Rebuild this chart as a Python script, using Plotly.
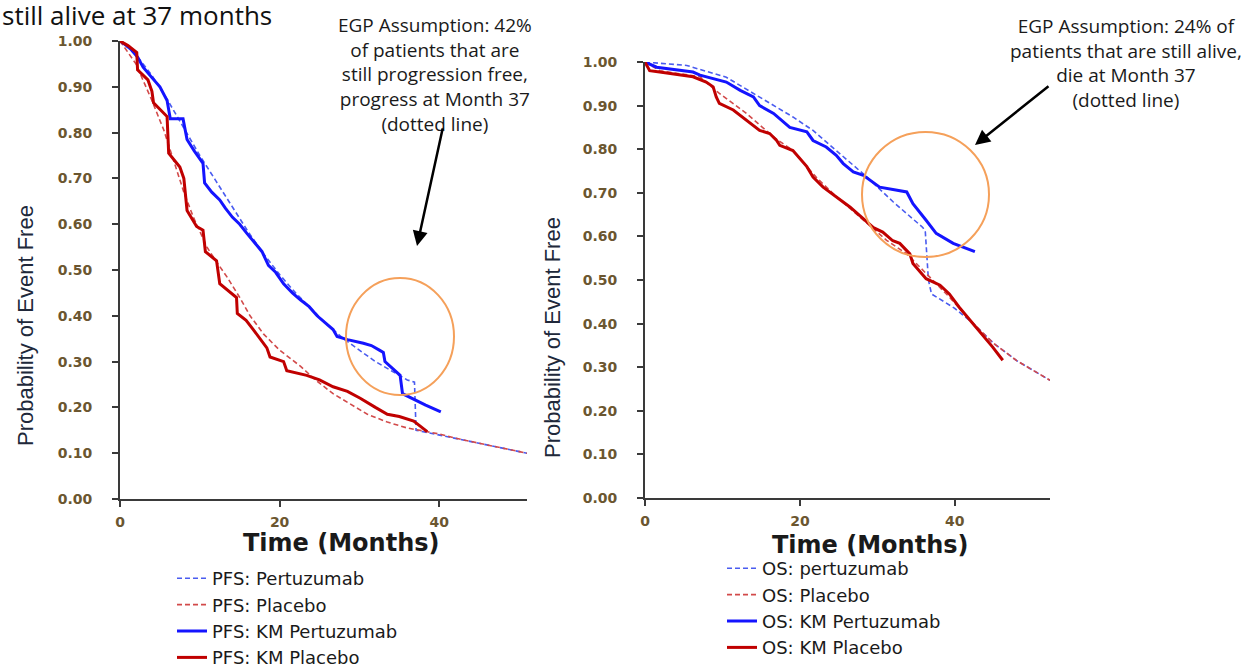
import plotly.graph_objects as go

# ---------------- PFS (left panel) ----------------
pfs_km_pert_t = [0, 1.2, 2.2, 2.9, 4, 5, 5.9, 6.3, 7.9, 8.4, 9.3, 10.4, 10.6, 11.5, 12.5, 13.2, 14.1, 15, 15.9,
                 16.8, 17.8, 18.6, 19.5, 20.5, 21.6, 22.6, 23.7, 24.7, 25.7, 26.7, 27.2, 28.5, 30.5, 31.5, 32.5,
                 33.0, 33.2, 34.2, 35.1, 35.4, 36.5, 38.3, 40.2]
pfs_km_pert_v = [1.0, 0.985, 0.965, 0.943, 0.92, 0.90, 0.87, 0.83, 0.83, 0.785, 0.76, 0.733, 0.69, 0.67, 0.653,
                 0.635, 0.615, 0.60, 0.58, 0.56, 0.54, 0.51, 0.495, 0.47, 0.45, 0.435, 0.42, 0.40, 0.385, 0.37,
                 0.355, 0.348, 0.34, 0.335, 0.325, 0.32, 0.30, 0.285, 0.27, 0.23, 0.22, 0.205, 0.19]

pfs_km_plac_t = [0, 1, 2.1, 2.2, 3.5, 4, 4.2, 5.9, 6.1, 7.5, 8.0, 8.4, 9.6, 10.4, 10.7, 12.1, 12.5, 13.5, 14.6,
                 14.7, 15.8, 16.7, 17.6, 18.4, 18.8, 20.5, 20.9, 23.4, 25, 26.7, 28.5, 30.1, 32, 33.5, 35, 36.8,
                 38.5]
pfs_km_plac_v = [1.0, 0.99, 0.975, 0.937, 0.915, 0.89, 0.865, 0.835, 0.755, 0.725, 0.70, 0.63, 0.595, 0.587,
                 0.54, 0.52, 0.47, 0.455, 0.44, 0.405, 0.39, 0.37, 0.35, 0.33, 0.31, 0.30, 0.28, 0.27, 0.26,
                 0.245, 0.235, 0.22, 0.20, 0.185, 0.18, 0.17, 0.147]

pfs_mod_pert_t = [0, 2, 4, 6, 8, 10, 12, 14, 16, 18, 20, 22, 24, 26, 28, 30, 32, 34, 36, 36.9, 37.1, 38, 40,
                  42, 44, 46, 48, 50, 51]
pfs_mod_pert_v = [1.0, 0.97, 0.925, 0.87, 0.81, 0.75, 0.695, 0.64, 0.585, 0.535, 0.49, 0.45, 0.415, 0.38, 0.35,
                  0.325, 0.30, 0.28, 0.26, 0.255, 0.15, 0.147, 0.14, 0.132, 0.125, 0.118, 0.111, 0.104, 0.10]

pfs_mod_plac_t = [0, 2, 4, 5.5, 6.7, 8, 9.2, 10.9, 12, 13.4, 15, 16.3, 18, 20, 22.6, 24.5, 26.7, 29, 31, 33.5,
                  36, 38.5, 40, 42, 44, 46, 48, 50, 51]
pfs_mod_plac_v = [1.0, 0.95, 0.87, 0.805, 0.74, 0.67, 0.615, 0.55, 0.52, 0.485, 0.44, 0.40, 0.36, 0.325, 0.29,
                  0.26, 0.23, 0.205, 0.185, 0.168, 0.155, 0.147, 0.142, 0.133, 0.125, 0.118, 0.111, 0.104, 0.10]

# ---------------- OS (right panel) ----------------
os_km_pert_t = [0, 1.5, 6.2, 7.1, 10.5, 12.3, 14, 14.8, 16.6, 18.7, 20.9, 21.7, 23.4, 24.7, 25.6, 26.9, 28.2,
                30.3, 33.8, 34.6, 36.3, 37.6, 39.8, 42.6]
os_km_pert_v = [1.0, 0.988, 0.977, 0.97, 0.954, 0.935, 0.92, 0.90, 0.882, 0.85, 0.84, 0.82, 0.805, 0.786, 0.767,
                0.748, 0.74, 0.713, 0.702, 0.675, 0.637, 0.607, 0.584, 0.565]

os_km_plac_t = [0, 0.6, 1.9, 6.2, 7.9, 8.8, 9.2, 9.6, 11.4, 13.1, 14.8, 16.1, 17, 17.4, 19.1, 20.9, 21.7, 23,
                24.7, 26.5, 27.7, 29.5, 30.7, 32, 32.9, 34.2, 34.6, 36.3, 38.1, 39.3, 40.6, 42.4, 44.9, 46.2]
os_km_plac_v = [1.0, 0.98, 0.977, 0.966, 0.954, 0.943, 0.92, 0.905, 0.89, 0.866, 0.843, 0.836, 0.82, 0.809,
                0.797, 0.76, 0.736, 0.713, 0.69, 0.667, 0.648, 0.62, 0.61, 0.59, 0.584, 0.56, 0.538, 0.503,
                0.488, 0.468, 0.437, 0.40, 0.346, 0.316]

os_mod_pert_t = [0, 5.4, 10.5, 14.8, 19.1, 21.7, 25.6, 28.6, 32, 35.9, 36.2, 36.6, 37, 40, 42.4, 45, 48, 52.3]
os_mod_pert_v = [1.0, 0.992, 0.965, 0.92, 0.874, 0.843, 0.782, 0.737, 0.68, 0.62, 0.61, 0.50, 0.468, 0.435,
                 0.40, 0.355, 0.315, 0.27]

os_mod_plac_t = [0, 1.9, 7.1, 9.6, 13.1, 16.6, 19.1, 22.1, 24.3, 27.7, 31.2, 33.8, 36.3, 39.3, 42.4, 45, 48, 52.3]
os_mod_plac_v = [1.0, 0.98, 0.966, 0.928, 0.882, 0.828, 0.797, 0.736, 0.698, 0.645, 0.591, 0.56, 0.515, 0.461,
                 0.40, 0.355, 0.315, 0.27]

x_ticks = [0, 20, 40]
y_ticks = [0.0, 0.1, 0.2, 0.3, 0.4, 0.5, 0.6, 0.7, 0.8, 0.9, 1.0]

W, H = 1260, 668
def px(x):
    return x / W
def py(y):
    return 1 - y / H

BLUE = "#1414ff"
RED = "#c00000"
BLUE_D = "#4a5cf0"
RED_D = "#d24a4a"
DASH = "5px,3px"

fig = go.Figure()

def add(t, v, name, color, dash, width, xa, ya, leg):
    fig.add_trace(go.Scatter(x=t, y=v, mode="lines", name=name,
                             line=dict(color=color, dash=dash, width=width),
                             xaxis=xa, yaxis=ya, legend=leg))

add(pfs_mod_pert_t, pfs_mod_pert_v, "PFS: Pertuzumab", BLUE_D, DASH, 1.6, "x", "y", "legend")
add(pfs_mod_plac_t, pfs_mod_plac_v, "PFS: Placebo", RED_D, DASH, 1.6, "x", "y", "legend")
add(pfs_km_pert_t, pfs_km_pert_v, "PFS: KM Pertuzumab", BLUE, None, 3, "x", "y", "legend")
add(pfs_km_plac_t, pfs_km_plac_v, "PFS: KM Placebo", RED, None, 3, "x", "y", "legend")

add(os_mod_pert_t, os_mod_pert_v, "OS: pertuzumab", BLUE_D, DASH, 1.6, "x2", "y2", "legend2")
add(os_mod_plac_t, os_mod_plac_v, "OS: Placebo", RED_D, DASH, 1.6, "x2", "y2", "legend2")
add(os_km_pert_t, os_km_pert_v, "OS: KM Pertuzumab", BLUE, None, 3, "x2", "y2", "legend2")
add(os_km_plac_t, os_km_plac_v, "OS: KM Placebo", RED, None, 3, "x2", "y2", "legend2")

AX = "#3a3a3a"
tickfont = dict(family="DejaVu Sans", size=14, color="#6b5630", weight="bold")
common_x = dict(tickvals=x_ticks, ticks="outside", ticklen=6, tickwidth=2, tickcolor=AX, showline=True,
                linecolor=AX, linewidth=2, showgrid=False, zeroline=False, tickfont=tickfont,
                ticklabelstandoff=3, automargin=False)
common_y = dict(tickvals=y_ticks, tickformat=".2f", ticks="outside", ticklen=6, tickwidth=2, tickcolor=AX,
                showline=True, linecolor=AX, linewidth=2, showgrid=False, zeroline=False, tickfont=tickfont,
                range=[0, 1.0], ticklabelstandoff=17, automargin=False)

legfont = dict(family="DejaVu Sans", size=18, color="#1a1a1a")

fig.update_layout(
    width=W, height=H, margin=dict(l=0, r=0, t=0, b=0, autoexpand=False),
    paper_bgcolor="white", plot_bgcolor="white",
    xaxis=dict(domain=[px(120), px(527)], range=[0, 51], anchor="y", **common_x),
    yaxis=dict(domain=[py(499), py(41)], anchor="x", **common_y),
    xaxis2=dict(domain=[px(645), px(1050)], range=[0, 52.3], anchor="y2", **common_x),
    yaxis2=dict(domain=[py(498), py(62)], anchor="x2", **common_y),
    legend=dict(x=px(172), y=py(560), xanchor="left", yanchor="top", font=legfont, bgcolor="rgba(0,0,0,0)",
                tracegroupgap=0, itemwidth=30),
    legend2=dict(x=px(722), y=py(550), xanchor="left", yanchor="top", font=legfont, bgcolor="rgba(0,0,0,0)",
                 tracegroupgap=0, itemwidth=30),
    showlegend=True,
)

ann_font = dict(family="Open Sans", size=19, color="#1a1a1a")
ytitle_font = dict(family="Liberation Sans", size=22, color="#20283a")
xtitle_font = dict(family="DejaVu Sans", size=24, color="#1a1a1a", weight="bold")

annotations = [
    dict(text="still alive at 37 months", x=px(0), y=py(15), xanchor="left", yanchor="middle",
         font=dict(family="Open Sans", size=26, color="#111111")),
    dict(text="EGP Assumption: 42%<br>of patients that are<br>still progression free,<br>progress at Month 37<br>(dotted line)",
         x=px(435), y=py(74), xanchor="center", yanchor="middle", align="center", font=ann_font),
    dict(text="EGP Assumption: 24% of<br>patients that are still alive,<br>die at Month 37<br>(dotted line)",
         x=px(1126), y=py(63), xanchor="center", yanchor="middle", align="center", font=ann_font),
    dict(text="Probability of Event Free", x=px(25), y=py(326), textangle=-90, xanchor="center",
         yanchor="middle", font=ytitle_font),
    dict(text="Probability of Event Free", x=px(552), y=py(338), textangle=-90, xanchor="center",
         yanchor="middle", font=ytitle_font),
    dict(text="Time (Months)", x=px(341), y=py(543), xanchor="center", yanchor="middle", font=xtitle_font),
    dict(text="Time (Months)", x=px(870), y=py(545), xanchor="center", yanchor="middle", font=xtitle_font),
    # arrows
    dict(text="", x=px(417), y=py(246), ax=443 - 417, ay=127 - 246, axref="pixel", ayref="pixel",
         showarrow=True, arrowhead=2, arrowsize=1.2, arrowwidth=2.5, arrowcolor="black"),
    dict(text="", x=px(975), y=py(145), ax=1050 - 975, ay=85 - 145, axref="pixel", ayref="pixel",
         showarrow=True, arrowhead=2, arrowsize=1.2, arrowwidth=2.5, arrowcolor="black"),
]
for a in annotations:
    a.setdefault("xref", "paper")
    a.setdefault("yref", "paper")
    a.setdefault("showarrow", False)
fig.update_layout(annotations=annotations)

ORANGE = "#f5a05a"
fig.add_shape(type="circle", xref="paper", yref="paper", x0=px(346), x1=px(454), y0=py(395), y1=py(278),
              line=dict(color=ORANGE, width=2))
fig.add_shape(type="circle", xref="paper", yref="paper", x0=px(862), x1=px(989), y0=py(257), y1=py(132),
              line=dict(color=ORANGE, width=2))

fig.write_html("out.html", config={"displayModeBar": False},
               post_script="document.body.style.margin='0';document.body.style.overflow='hidden';")
